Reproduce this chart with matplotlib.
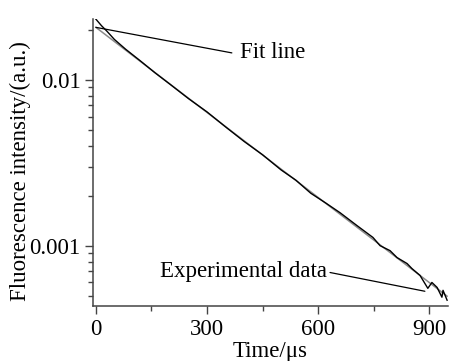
import numpy as np
import matplotlib
matplotlib.use("Agg")
import matplotlib.pyplot as plt
from matplotlib.ticker import FixedLocator, LogLocator, NullFormatter

plt.rcParams['font.family'] = ['Liberation Serif', 'DejaVu Serif']

# datos
t_exp = [0, 15, 30, 50, 80, 120, 160, 200, 250, 300, 350, 400, 450, 500,
         540, 580, 620, 659, 705, 748, 767, 794, 813, 840, 853, 875, 896,
         907, 921, 934, 937, 948]
i_exp = [0.0232, 0.0212, 0.0196, 0.0175, 0.0153, 0.0130, 0.0110, 0.0094,
         0.0077, 0.0064, 0.0052, 0.00425, 0.00353, 0.00286, 0.00248,
         0.00207, 0.00181, 0.00158, 0.00132, 0.00112, 0.00100, 0.000933,
         0.000847, 0.000780, 0.000728, 0.000661, 0.000553, 0.000600,
         0.000560, 0.000489, 0.000538, 0.000469]

# recta de ajuste (dos extremos)
t_fit = [0, 948]
i_fit = [0.0207, 0.000496]

x_ticks = [0, 300, 600, 900]
x_minor = [150, 450, 750]
y_ticks = [0.001, 0.01]
y_labels = ['0.001', '0.01']

fs = 16.5

fig = plt.figure(figsize=(4.51, 3.61), dpi=100)
ax = fig.add_axes([0.206, 0.152, 0.787, 0.795])

ax.plot(t_fit, i_fit, color='#8a8a8a', lw=1.1)
ax.plot(t_exp, i_exp, color='black', lw=1.0)

ax.set_yscale('log')
ax.set_xlim(-8, 950)
ax.set_ylim(4.32e-4, 0.0232)

ax.set_xticks(x_ticks)
ax.xaxis.set_minor_locator(FixedLocator(x_minor))
ax.set_yticks(y_ticks)
ax.set_yticklabels(y_labels)
ax.yaxis.set_minor_locator(LogLocator(base=10, subs=np.arange(2, 10)))
ax.yaxis.set_minor_formatter(NullFormatter())

ax.spines['top'].set_visible(False)
ax.spines['right'].set_visible(False)
for s in ['left', 'bottom']:
    ax.spines[s].set_linewidth(1.1)
    ax.spines[s].set_color('#444444')

ax.tick_params(which='major', direction='out', length=6, width=1,
               labelsize=fs, pad=3, color='#444444')
ax.tick_params(which='minor', direction='out', length=3.5, width=1,
               color='#444444')

ax.set_xlabel('Time/\u03bcs', fontsize=fs, labelpad=1)
ax.set_ylabel('Fluorescence intensity/(a.u.)', fontsize=fs)
ax.yaxis.set_label_coords(-0.175, 0.47)

# anotaciones
ax.annotate('', xy=(0, 0.0207), xytext=(367, 0.01452),
            arrowprops=dict(arrowstyle='-', color='black', lw=0.9,
                            shrinkA=0, shrinkB=0))
ax.text(389, 0.0146, 'Fit line', fontsize=fs, ha='left', va='center')

ax.annotate('', xy=(888, 0.000531), xytext=(632, 0.000689),
            arrowprops=dict(arrowstyle='-', color='black', lw=0.9,
                            shrinkA=0, shrinkB=0))
ax.text(624, 0.000695, 'Experimental data', fontsize=fs, ha='right',
        va='center')

fig.savefig('out.png', dpi=100)
